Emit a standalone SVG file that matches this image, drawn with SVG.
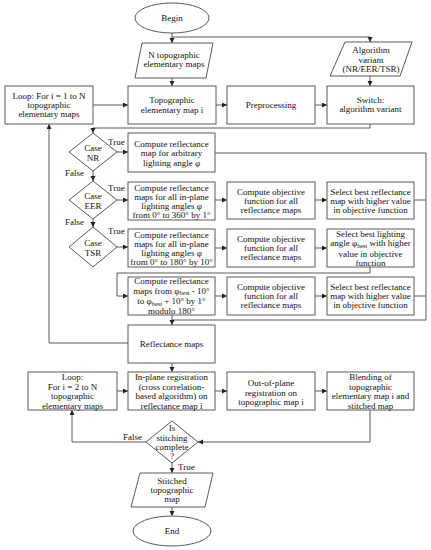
<svg xmlns="http://www.w3.org/2000/svg" width="431" height="550" viewBox="0 0 431 550">
<style>
.n{fill:#fff;stroke:#5a5a5a;stroke-width:1}
.t{font-family:"Liberation Serif","Times New Roman",serif;font-size:9px;fill:#111;text-anchor:middle}
.l{font-family:"Liberation Serif","Times New Roman",serif;font-size:9px;fill:#111}
.c{fill:none;stroke:#5a5a5a;stroke-width:1}
.a{marker-end:url(#ar)}
</style>
<defs>
<marker id="ar" markerUnits="userSpaceOnUse" markerWidth="6" markerHeight="6" refX="5" refY="2.5" orient="auto">
<path d="M0,0 L5,2.5 L0,5 z" fill="#222"/>
</marker>
</defs>
<rect width="431" height="550" fill="#fff"/>
<g id="connectors">
<path class="c a" d="M172,33 V43"/>
<path class="c a" d="M172,37 H370 V42"/>
<path class="c a" d="M172,78 V86"/>
<path class="c a" d="M93,105 H128"/>
<path class="c a" d="M216,105 H227"/>
<path class="c a" d="M315,105 H327"/>
<path class="c a" d="M370,76 V86"/>
<path class="c a" d="M370,124 V128 H93 V133"/>
<path class="c a" d="M117,152 H128"/>
<path class="c a" d="M93,171 V181"/>
<path class="c a" d="M117,200 H128"/>
<path class="c a" d="M93,219 V227"/>
<path class="c a" d="M117,247 H128"/>
<path class="c a" d="M215,200 H227"/>
<path class="c a" d="M315,200 H327"/>
<path class="c a" d="M215,248 H227"/>
<path class="c a" d="M315,248 H327"/>
<path class="c a" d="M370,267 V273 H117 V296 H128"/>
<path class="c a" d="M215,296 H227"/>
<path class="c a" d="M315,296 H327"/>
<path class="c" d="M215,153 H426 V320 H172"/>
<path class="c" d="M414,200 H426"/>
<path class="c" d="M414,296 H426"/>
<path class="c a" d="M172,315 V325"/>
<path class="c a" d="M128,343 H49 V124"/>
<path class="c a" d="M172,363 V372"/>
<path class="c a" d="M117,391 H128"/>
<path class="c a" d="M215,391 H227"/>
<path class="c a" d="M315,391 H327"/>
<path class="c a" d="M370,410 V442 H198"/>
<path class="c a" d="M146,442 H72 V410"/>
<path class="c a" d="M172,463 V473"/>
<path class="c a" d="M172,507 V516"/>
<text class="l" x="108" y="144.5">True</text>
<text class="l" x="65" y="176">False</text>
<text class="l" x="108" y="191">True</text>
<text class="l" x="65" y="225">False</text>
<text class="l" x="108" y="233.5">True</text>
<text class="l" x="123" y="440">False</text>
<text class="l" x="178" y="469.5">True</text>
</g>
<g id="begin"><ellipse class="n" cx="172" cy="18" rx="37" ry="15"/><text class="t" x="172" y="21">Begin</text></g>
<g id="n-maps"><polygon class="n" points="142,43 213,43 206,78 135,78"/><text class="t" x="174" y="57.5">N topographic</text><text class="t" x="174" y="67">elementary maps</text></g>
<g id="algo-variant"><polygon class="n" points="345,42 412,42 400,76 330,76"/><text class="t" x="371" y="53">Algorithm</text><text class="t" x="371" y="62.5">variant</text><text class="t" x="371" y="72">(NR/EER/TSR)</text></g>
<g id="loop1"><rect class="n" x="5" y="86" width="88" height="38"/><text class="t" x="49" y="98.7">Loop: For i = 1 to N</text><text class="t" x="49" y="108">topographic</text><text class="t" x="49" y="117.3">elementary maps</text></g>
<g id="topo-map"><rect class="n" x="128" y="86" width="88" height="38"/><text class="t" x="172" y="103.3">Topographic</text><text class="t" x="172" y="112.6">elementary map i</text></g>
<g id="preproc"><rect class="n" x="227" y="86" width="88" height="38"/><text class="t" x="271" y="108">Preprocessing</text></g>
<g id="switch"><rect class="n" x="327" y="86" width="87" height="38"/><text class="t" x="370.5" y="103">Switch:</text><text class="t" x="370.5" y="112.3">algorithm variant</text></g>
<g id="case-nr"><polygon class="n" points="93,133 117,152 93,171 69,152"/><text class="t" x="93" y="150.8">Case</text><text class="t" x="93" y="160.5">NR</text></g>
<g id="case-eer"><polygon class="n" points="93,181 117,200 93,219 69,200"/><text class="t" x="93" y="199">Case</text><text class="t" x="93" y="208.8">EER</text></g>
<g id="case-tsr"><polygon class="n" points="93,227 117,247 93,267 69,247"/><text class="t" x="93" y="246">Case</text><text class="t" x="93" y="255.8">TSR</text></g>
<g id="nr-compute"><rect class="n" x="128" y="133" width="87" height="39"/><text class="t" x="171.5" y="147">Compute reflectance</text><text class="t" x="171.5" y="156.3">map for arbitrary</text><text class="t" x="171.5" y="165.6">lighting angle φ</text></g>
<g id="eer-compute"><rect class="n" x="128" y="182" width="87" height="38"/><text class="t" x="171.5" y="190.5">Compute reflectance</text><text class="t" x="171.5" y="199.7">maps for all in-plane</text><text class="t" x="171.5" y="209">lighting angles φ</text><text class="t" x="171.5" y="218.3">from 0° to 360° by 1°</text></g>
<g id="eer-objective"><rect class="n" x="227" y="182" width="88" height="37"/><text class="t" x="271" y="194.5">Compute objective</text><text class="t" x="271" y="203.8">function for all</text><text class="t" x="271" y="213.1">reflectance maps</text></g>
<g id="eer-select"><rect class="n" x="327" y="182" width="87" height="37"/><text class="t" x="370.5" y="194.5">Select best reflectance</text><text class="t" x="370.5" y="203.8">map with higher value</text><text class="t" x="370.5" y="213.1">in objective function</text></g>
<g id="tsr-compute"><rect class="n" x="128" y="229" width="87" height="38"/><text class="t" x="171.5" y="237.5">Compute reflectance</text><text class="t" x="171.5" y="246.7">maps for all in-plane</text><text class="t" x="171.5" y="256">lighting angles φ</text><text class="t" x="171.5" y="265.3">from 0° to 180° by 10°</text></g>
<g id="tsr-objective"><rect class="n" x="227" y="229" width="88" height="38"/><text class="t" x="271" y="241.7">Compute objective</text><text class="t" x="271" y="251">function for all</text><text class="t" x="271" y="260.3">reflectance maps</text></g>
<g id="tsr-select"><rect class="n" x="327" y="229" width="87" height="38"/><text class="t" x="370.5" y="237">Select best lighting</text><text class="t" x="370.5" y="246.3">angle φ<tspan font-size="6.3" dy="1.8">best</tspan><tspan dy="-1.8"> with higher</tspan></text><text class="t" x="370.5" y="256.5">value in objective</text><text class="t" x="370.5" y="265.8">function</text></g>
<g id="refine-compute"><rect class="n" x="128" y="277" width="87" height="38"/><text class="t" x="171.5" y="284">Compute reflectance</text><text class="t" x="171.5" y="293.5">maps from φ<tspan font-size="6.3" dy="1.8">best</tspan><tspan dy="-1.8"> - 10°</tspan></text><text class="t" x="171.5" y="304">to φ<tspan font-size="6.3" dy="1.8">best</tspan><tspan dy="-1.8"> + 10° by 1°</tspan></text><text class="t" x="171.5" y="313.5">modulo 180°</text></g>
<g id="refine-objective"><rect class="n" x="227" y="277" width="88" height="38"/><text class="t" x="271" y="289.7">Compute objective</text><text class="t" x="271" y="299">function for all</text><text class="t" x="271" y="308.3">reflectance maps</text></g>
<g id="refine-select"><rect class="n" x="327" y="277" width="87" height="38"/><text class="t" x="370.5" y="289.7">Select best reflectance</text><text class="t" x="370.5" y="299">map with higher value</text><text class="t" x="370.5" y="308.3">in objective function</text></g>
<g id="reflectance-maps"><rect class="n" x="128" y="325" width="87" height="38"/><text class="t" x="171.5" y="347">Reflectance maps</text></g>
<g id="loop2"><rect class="n" x="28" y="372" width="89" height="38"/><text class="t" x="72.5" y="380.3">Loop:</text><text class="t" x="72.5" y="389.8">For i = 2 to N</text><text class="t" x="72.5" y="399.3">topographic</text><text class="t" x="72.5" y="408.6">elementary maps</text></g>
<g id="inplane"><rect class="n" x="128" y="372" width="87" height="38"/><text class="t" x="171.5" y="380.3">In-plane registration</text><text class="t" x="171.5" y="389.8">(cross correlation-</text><text class="t" x="171.5" y="399.3">based algorithm) on</text><text class="t" x="171.5" y="408.6">reflectance map i</text></g>
<g id="outofplane"><rect class="n" x="227" y="372" width="88" height="38"/><text class="t" x="271" y="386">Out-of-plane</text><text class="t" x="271" y="395.5">registration on</text><text class="t" x="271" y="405">topographic map i</text></g>
<g id="blending"><rect class="n" x="327" y="372" width="87" height="38"/><text class="t" x="370.5" y="380.3">Blending of</text><text class="t" x="370.5" y="389.8">topographic</text><text class="t" x="370.5" y="399.3">elementary map i and</text><text class="t" x="370.5" y="408.6">stitched map</text></g>
<g id="is-complete"><polygon class="n" points="172,421 198,442 172,463 146,442"/><text class="t" x="172" y="431">Is</text><text class="t" x="172" y="440.5">stitching</text><text class="t" x="172" y="450">complete</text><text class="t" x="172" y="459">?</text></g>
<g id="stitched"><polygon class="n" points="140,473 213,473 205,507 131,507"/><text class="t" x="172" y="484">Stitched</text><text class="t" x="172" y="493">topographic</text><text class="t" x="172" y="502">map</text></g>
<g id="end"><ellipse class="n" cx="172" cy="531" rx="39" ry="15"/><text class="t" x="172" y="534">End</text></g>
</svg>
